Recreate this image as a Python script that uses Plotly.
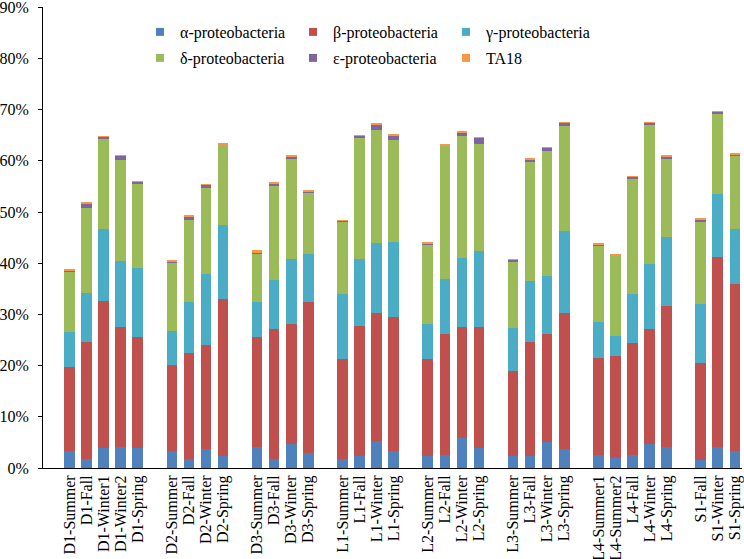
import plotly.graph_objects as go

categories = [
    "D1-Summer", "D1-Fall", "D1-Winter1", "D1-Winter2", "D1-Spring",
    "D2-Summer", "D2-Fall", "D2-Winter", "D2-Spring",
    "D3-Summer", "D3-Fall", "D3-Winter", "D3-Spring",
    "L1-Summer", "L1-Fall", "L1-Winter", "L1-Spring",
    "L2-Summer", "L2-Fall", "L2-Winter", "L2-Spring",
    "L3-Summer", "L3-Fall", "L3-Winter", "L3-Spring",
    "L4-Summer1", "L4-Summer2", "L4-Fall", "L4-Winter", "L4-Spring",
    "S1-Fall", "S1-Winter", "S1-Spring",
]

alpha = [3.4, 1.8, 3.9, 4.1, 3.9, 3.4, 1.8, 3.8, 2.3, 4.1, 1.8, 4.6, 3.0,
         1.8, 2.3, 5.2, 3.4, 2.3, 2.5, 5.8, 3.9, 2.3, 2.3, 5.1, 3.8,
         2.6, 1.9, 2.6, 4.7, 4.2, 1.5, 4.1, 3.4]
beta = [16.4, 22.9, 28.8, 23.5, 21.6, 16.7, 20.6, 20.2, 30.8, 21.5, 25.3, 23.5, 29.4,
        19.5, 25.4, 25.0, 26.1, 19.0, 23.6, 21.8, 23.7, 16.7, 22.3, 21.0, 26.4,
        18.9, 19.9, 21.8, 22.5, 27.4, 19.0, 37.1, 32.6]
gamma = [6.8, 9.5, 13.9, 12.8, 13.5, 6.7, 10.0, 13.8, 14.4, 6.9, 9.7, 12.8, 9.5,
         12.6, 13.1, 13.8, 14.6, 6.8, 10.9, 13.4, 14.8, 8.4, 11.9, 11.5, 16.0,
         7.0, 4.0, 9.6, 12.7, 13.6, 11.6, 12.3, 10.7]
delta = [11.7, 16.6, 17.6, 19.8, 16.5, 13.3, 16.0, 16.9, 15.6, 9.4, 18.2, 19.4, 11.9,
         14.3, 23.7, 22.1, 19.9, 15.5, 25.9, 23.8, 20.9, 13.0, 23.2, 24.4, 20.7,
         15.0, 15.7, 22.6, 27.1, 15.1, 15.9, 15.6, 14.3]
epsilon = [0.1, 0.8, 0.5, 0.8, 0.4, 0.1, 0.7, 0.6, 0.05, 0.1, 0.6, 0.6, 0.3,
           0.1, 0.4, 1.0, 1.0, 0.3, 0.1, 0.8, 1.2, 0.3, 0.5, 0.6, 0.5,
           0.1, 0.1, 0.3, 0.4, 0.6, 0.6, 0.5, 0.3]
ta18 = [0.5, 0.2, 0.1, 0.1, 0.1, 0.5, 0.2, 0.1, 0.15, 0.5, 0.1, 0.1, 0.1,
        0.1, 0.1, 0.1, 0.05, 0.3, 0.1, 0.1, 0.1, 0.1, 0.2, 0.1, 0.1,
        0.3, 0.2, 0.1, 0.1, 0.1, 0.1, 0.1, 0.05]

y_ticks = [0, 10, 20, 30, 40, 50, 60, 70, 80, 90]
y_tick_labels = ["0%", "10%", "20%", "30%", "40%", "50%", "60%", "70%", "80%", "90%"]

series_names = ["α-proteobacteria", "β-proteobacteria", "γ-proteobacteria",
                "δ-proteobacteria", "ε-proteobacteria", "TA18"]
series_values = [alpha, beta, gamma, delta, epsilon, ta18]
series_colors = ["#4F81BD", "#C0504D", "#4BACC6", "#9BBB59", "#8064A2", "#F79646"]

# x positions: one empty slot between sites
positions = []
site_prev = None
gi = -1
for i, c in enumerate(categories):
    site = c.split("-")[0]
    if site != site_prev:
        gi += 1
        site_prev = site
    positions.append(i + gi)

FONT = "Liberation Serif"

fig = go.Figure()
for name, vals, col in zip(series_names, series_values, series_colors):
    fig.add_trace(go.Bar(x=positions, y=vals, name=name, marker=dict(color=col, line=dict(width=0)),
                         width=0.62, showlegend=False))

for k, (name, col) in enumerate(zip(series_names, series_colors)):
    fig.add_trace(go.Scatter(x=[None], y=[None], mode="markers", name=name,
                             marker=dict(symbol="square", size=8, color=col),
                             legend="legend" if k < 3 else "legend2"))

PL, PT, PW, PH = 43, 7, 699, 461
leg_x = (140 - PL) / PW

fig.update_layout(
    width=744, height=559,
    margin=dict(l=PL, r=744 - PL - PW, t=PT, b=559 - PT - PH, autoexpand=False),
    paper_bgcolor="white", plot_bgcolor="white",
    barmode="stack",
    font=dict(family=FONT, size=16, color="black"),
    xaxis=dict(range=[-1.55, 39.42], tickvals=positions, ticktext=categories,
               tickangle=-90, showline=True, linecolor="black", linewidth=1,
               ticks="", showgrid=False, zeroline=False, automargin=False,
               ticklabeloverflow="allow",
               tickfont=dict(family=FONT, size=16, color="black")),
    yaxis=dict(range=[0, 90.05], tickvals=y_ticks, ticktext=y_tick_labels, showline=True,
               linecolor="black", linewidth=1, ticks="outside", ticklen=4,
               tickcolor="black", showgrid=False, zeroline=False, automargin=False,
               ticklabelstandoff=6, ticklabeloverflow="allow",
               tickfont=dict(family=FONT, size=16, color="black")),
    legend=dict(orientation="h", x=leg_x, y=1 - (32 - PT) / PH, xanchor="left", yanchor="middle",
                traceorder="normal", entrywidth=108,
                font=dict(family=FONT, size=16), bgcolor="rgba(0,0,0,0)"),
    legend2=dict(orientation="h", x=leg_x, y=1 - (58 - PT) / PH, xanchor="left", yanchor="middle",
                 traceorder="normal", entrywidth=108,
                 font=dict(family=FONT, size=16), bgcolor="rgba(0,0,0,0)"),
)

fig.write_html("out.html", config={"displayModeBar": False},
               post_script="document.body.style.margin='0';")
